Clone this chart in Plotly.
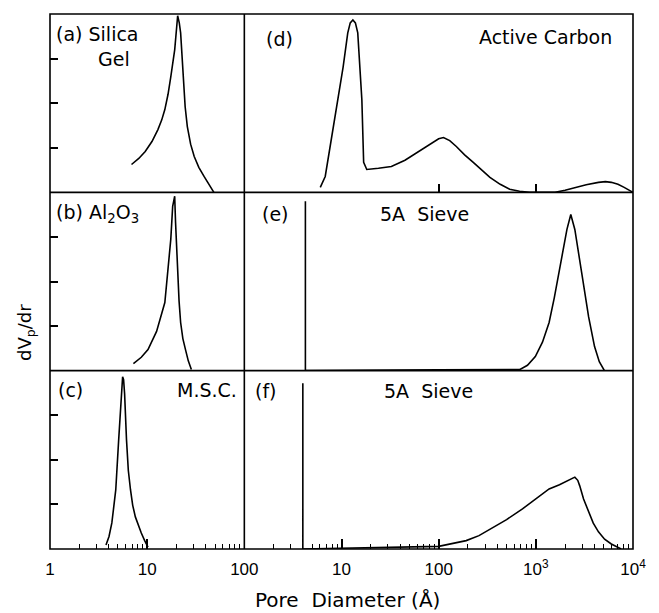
import plotly.graph_objects as go
from plotly.subplots import make_subplots

# (a) Silica Gel
a_x = [6.9, 8.2, 9.55, 11.2, 12.9, 14.1, 15.2, 16.4, 17.5, 18.4, 19.2, 20.6, 21.4, 22.1, 23.6, 24.6,
       25.9, 28.0, 30.5, 34.0, 38.5, 43.0, 48.6]
a_y = [0.156, 0.19, 0.229, 0.285, 0.352, 0.405, 0.464, 0.55, 0.648, 0.72, 0.799, 0.99, 0.95, 0.894,
       0.615, 0.48, 0.369, 0.27, 0.201, 0.14, 0.089, 0.045, 0.0]
# (b) Al2O3
b_x = [7.22, 8.7, 10.2, 12.5, 15.2, 16.3, 17.5, 18.3, 19.2, 19.6, 20.6, 21.3, 22.1, 23.3, 24.8, 26.5, 28.5]
b_y = [0.039, 0.075, 0.118, 0.22, 0.382, 0.551, 0.736, 0.921, 0.978, 0.831, 0.551, 0.39, 0.270, 0.18,
       0.118, 0.055, 0.006]
# (c) M.S.C.
c_x = [3.77, 4.05, 4.33, 4.75, 5.09, 5.34, 5.46, 5.59, 5.72, 5.86, 6.13, 6.4, 6.74, 7.1, 7.56, 8.1,
       8.70, 9.4, 10.2]
c_y = [0.022, 0.07, 0.146, 0.331, 0.612, 0.798, 0.893, 0.966, 0.95, 0.87, 0.612, 0.44, 0.331, 0.245,
       0.180, 0.13, 0.090, 0.048, 0.011]
# (d) Active Carbon
d_x = [6.05, 6.8, 7.6, 8.6, 9.5, 10.4, 11.6, 12.3, 13.1, 13.9, 14.7, 15.5, 16.2, 16.9, 18.2, 24.0,
       32.6, 45.0, 59.8, 75.0, 89, 100, 112, 130, 152, 185, 227, 280, 337, 430, 538, 680, 859, 1150,
       1580, 2000, 2520, 3300, 4410, 5200, 5980, 7000, 8110, 9000, 10000]
d_y = [0.028, 0.089, 0.25, 0.425, 0.57, 0.704, 0.894, 0.95, 0.966, 0.95, 0.894, 0.72, 0.520, 0.168,
       0.128, 0.135, 0.145, 0.18, 0.223, 0.258, 0.285, 0.30, 0.307, 0.29, 0.257, 0.21, 0.168, 0.125,
       0.084, 0.045, 0.017, 0.006, 0.0, 0.0, 0.0, 0.012, 0.028, 0.043, 0.056, 0.06, 0.056, 0.045,
       0.028, 0.014, 0.0]
# (e) 5A Sieve
e_x = [4.25, 4.25, 100, 500, 680, 820, 988, 1170, 1370, 1550, 1730, 2090, 2290, 2520, 2960, 3200,
       3490, 4020, 4500, 5080]
e_y = [0.95, 0.0, 0.005, 0.005, 0.006, 0.03, 0.079, 0.16, 0.270, 0.41, 0.551, 0.792, 0.876, 0.792,
       0.551, 0.42, 0.303, 0.135, 0.05, 0.0]
# (f) 5A Sieve
f_x = [4.0, 4.0, 100, 140, 192, 260, 337, 500, 729, 1000, 1370, 1750, 2190, 2520, 2700, 2830, 3100,
       3490, 3900, 4410, 5100, 5980, 7550]
f_y = [0.93, 0.0, 0.015, 0.03, 0.047, 0.075, 0.112, 0.165, 0.225, 0.28, 0.337, 0.36, 0.384, 0.403,
       0.385, 0.354, 0.28, 0.208, 0.145, 0.096, 0.055, 0.028, 0.0]

left_major = [1, 10, 100]
left_ticktext = ["1", "10", "100"]
right_major = [10, 100, 1000, 10000]
right_ticktext = ["10", "100", "10<sup>3</sup>", "10<sup>4</sup>"]
y_ticks = [0.25, 0.5, 0.75]
d_bottom_ticks = [100, 1000]

panel_series = [(a_x, a_y, 1, 1), (d_x, d_y, 1, 2), (b_x, b_y, 2, 1),
                (e_x, e_y, 2, 2), (c_x, c_y, 3, 1), (f_x, f_y, 3, 2)]

fig = make_subplots(rows=3, cols=2, column_widths=[2, 4],
                    horizontal_spacing=0, vertical_spacing=0)

for xs, ys, r, c in panel_series:
    fig.add_trace(go.Scatter(x=xs, y=ys, mode="lines",
                             line=dict(color="black", width=1.6),
                             showlegend=False, hoverinfo="skip"), row=r, col=c)

base = dict(showline=False, showgrid=False, zeroline=False)


def all_ticks(n_dec):
    return [m * 10 ** k for k in range(n_dec) for m in range(1, 10)] + [10 ** n_dec]


def tick_text(vals, major, major_text):
    lut = dict(zip(major, major_text))
    return [lut.get(v, "") for v in vals]


left_all = all_ticks(2)
right_all = all_ticks(4)

for r in (1, 2, 3):
    xk = dict(type="log", range=[0, 2], **base)
    if r == 3:
        xk.update(tickvals=left_all, ticktext=tick_text(left_all, left_major, left_ticktext),
                  ticks="inside", ticklen=5, tickwidth=1.4, tickcolor="black", ticklabelstandoff=8)
    else:
        xk.update(showticklabels=False, ticks="")
    fig.update_xaxes(row=r, col=1, **xk)
    fig.update_yaxes(row=r, col=1, range=[0, 1], tickvals=y_ticks, ticks="inside", ticklen=8,
                     tickwidth=1.5, tickcolor="black", showticklabels=False, **base)
    xk = dict(type="log", range=[0, 4], **base)
    if r == 3:
        xk.update(tickvals=right_all, ticktext=tick_text(right_all, right_major, right_ticktext),
                  ticks="inside", ticklen=5, tickwidth=1.4, tickcolor="black", ticklabelstandoff=8)
    elif r == 1:
        xk.update(tickvals=d_bottom_ticks, ticks="inside", ticklen=8, tickwidth=1.5,
                  tickcolor="black", showticklabels=False)
    else:
        xk.update(showticklabels=False, ticks="")
    fig.update_xaxes(row=r, col=2, **xk)
    fig.update_yaxes(row=r, col=2, range=[0, 1], ticks="", showticklabels=False, **base)

# overlay axes carrying the longer decade ticks on the bottom row
fig.update_layout(
    xaxis7=dict(type="log", range=[0, 2], overlaying="x5", anchor="y5", side="bottom",
                tickvals=left_major, ticks="inside", ticklen=10, tickwidth=1.5, tickcolor="black",
                showticklabels=False, **base),
    xaxis8=dict(type="log", range=[0, 4], overlaying="x6", anchor="y6", side="bottom",
                tickvals=right_major, ticks="inside", ticklen=10, tickwidth=1.5, tickcolor="black",
                showticklabels=False, **base),
)
fig.add_trace(go.Scatter(x=[], y=[], xaxis="x7", yaxis="y5", showlegend=False))
fig.add_trace(go.Scatter(x=[], y=[], xaxis="x8", yaxis="y6", showlegend=False))

# frame and panel dividers
frame = dict(color="black", width=1.6)
fig.add_shape(type="rect", xref="paper", yref="paper", x0=0, x1=1, y0=0, y1=1, line=frame, layer="above")
fig.add_shape(type="line", xref="paper", yref="paper", x0=1 / 3, x1=1 / 3, y0=0, y1=1, line=frame, layer="above")
for yy in (1 / 3, 2 / 3):
    fig.add_shape(type="line", xref="paper", yref="paper", x0=0, x1=1, y0=yy, y1=yy, line=frame, layer="above")

lab_font = dict(family="DejaVu Sans", size=19, color="black")
labels = [
    ("x", "y", 0.02, 0.89, "left", "(a) Silica"),
    ("x", "y", 0.235, 0.75, "left", "Gel"),
    ("x2", "y2", 0.05, 0.86, "left", "(d)"),
    ("x2", "y2", 0.95, 0.87, "right", "Active Carbon"),
    ("x3", "y3", 0.02, 0.88, "left", "(b) Al<sub>2</sub>O<sub>3</sub>"),
    ("x4", "y4", 0.04, 0.876, "left", "(e)"),
    ("x4", "y4", 0.345, 0.876, "left", "5A  Sieve"),
    ("x5", "y5", 0.03, 0.89, "left", "(c)"),
    ("x5", "y5", 0.975, 0.89, "right", "M.S.C."),
    ("x6", "y6", 0.022, 0.885, "left", "(f)"),
    ("x6", "y6", 0.355, 0.885, "left", "5A  Sieve"),
]
for xr, yr, xx, yy, anc, txt in labels:
    fig.add_annotation(xref=xr + " domain", yref=yr + " domain", x=xx, y=yy, text=txt,
                       showarrow=False, xanchor=anc, yanchor="middle", font=lab_font)

fig.add_annotation(xref="paper", yref="paper", x=0.51, y=-0.095, text="Pore  Diameter (Å)",
                   showarrow=False, xanchor="center", yanchor="middle",
                   font=dict(family="DejaVu Sans", size=20, color="black"))
fig.add_annotation(xref="paper", yref="paper", x=-0.04, y=0.405, text="dV<sub>p</sub>/dr",
                   textangle=-90, showarrow=False, xanchor="center", yanchor="middle",
                   font=dict(family="DejaVu Sans", size=18, color="black"))

fig.update_layout(width=659, height=613, margin=dict(l=50, r=17, t=14, b=64),
                  plot_bgcolor="white", paper_bgcolor="white",
                  font=dict(family="Liberation Sans", size=17, color="black"))

fig.write_html("out.html")
